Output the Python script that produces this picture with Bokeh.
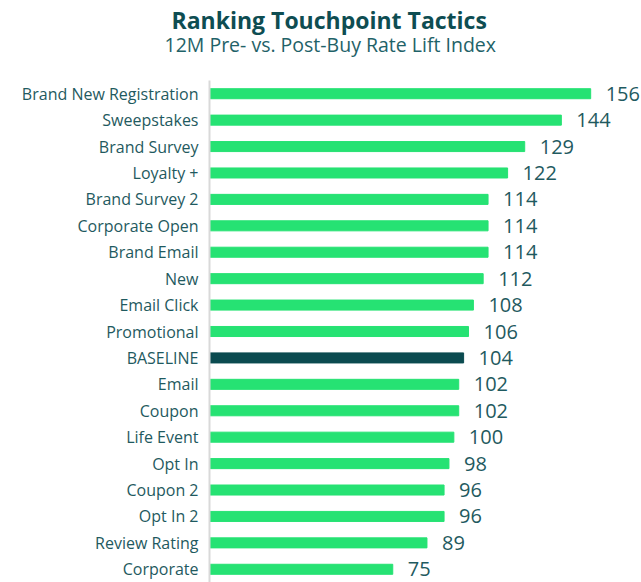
from bokeh.plotting import figure
from bokeh.models import ColumnDataSource, Range1d, Title, FactorRange
from bokeh.core.properties import value
from bokeh.embed import file_html
from bokeh.resources import INLINE

tactics = ["Brand New Registration", "Sweepstakes", "Brand Survey", "Loyalty +",
           "Brand Survey 2", "Corporate Open", "Brand Email", "New", "Email Click",
           "Promotional", "BASELINE", "Email", "Coupon", "Life Event", "Opt In",
           "Coupon 2", "Opt In 2", "Review Rating", "Corporate"]
lift_index = [156, 144, 129, 122, 114, 114, 114, 112, 108, 106, 104, 102, 102,
              100, 98, 96, 96, 89, 75]

GREEN = "#26E273"
DARK = "#0B4B50"
TEXT = "#1F5A60"
FONT = "Open Sans"

colors = [DARK if t == "BASELINE" else GREEN for t in tactics]
src = ColumnDataSource(dict(t=tactics, v=lift_index, c=colors,
                            lbl=[str(v) for v in lift_index]))

p = figure(width=641, height=582, output_backend="svg", toolbar_location=None,
           y_range=FactorRange(factors=tactics[::-1]), x_range=Range1d(0, 176.8),
           min_border_left=209, min_border_right=0, min_border_bottom=0,
           min_border_top=0)

p.hbar(y="t", right="v", left=0, height=0.38, color="c", source=src)
p.text(x="v", y="t", text="lbl", source=src, x_offset=15,
       text_baseline="middle", text_align="left",
       text_font=value(FONT), text_font_size="20px", text_color=TEXT)

spacer = Title(text=" ", text_font_size="1px", standoff=29)
sub = Title(text="12M Pre- vs. Post-Buy Rate Lift Index", align="left",
            offset=-45, text_font=FONT, text_font_size="19.5px", standoff=-18,
            text_font_style="normal", text_color="#1F6268")
ttl = Title(text="Ranking Touchpoint Tactics", align="left", offset=-38,
            text_font=FONT, text_font_size="23px", text_font_style="bold",
            standoff=3, text_color="#0E4D52")
p.add_layout(spacer, "above")
p.add_layout(sub, "above")
p.add_layout(ttl, "above")

p.xaxis.visible = False
p.xgrid.visible = False
p.ygrid.visible = False
p.outline_line_color = None
ax = p.yaxis[0]
ax.axis_line_color = "#D9D9D9"
ax.axis_line_width = 2
ax.major_tick_line_color = None
ax.minor_tick_line_color = None
ax.major_label_standoff = 5
ax.major_label_text_font = FONT
ax.major_label_text_font_size = "16px"
ax.major_label_text_color = TEXT

open("out.html", "w").write(file_html(p, INLINE))
